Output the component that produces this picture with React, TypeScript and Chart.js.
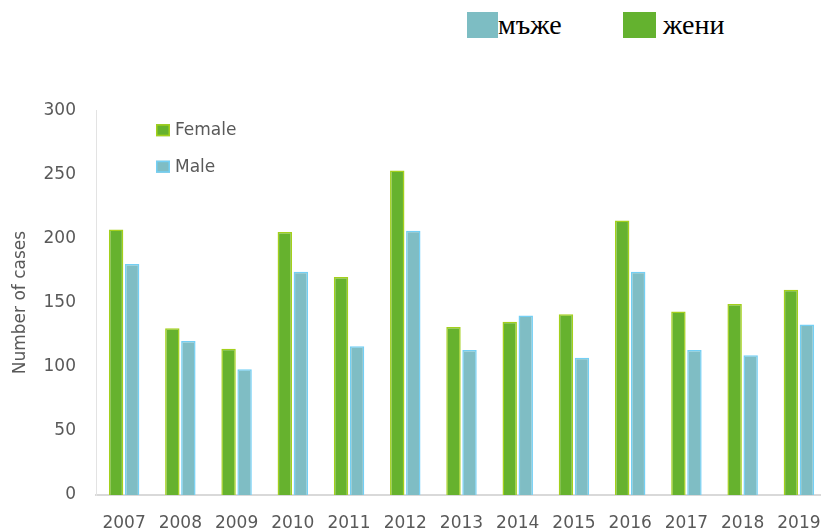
import React, { useEffect, useRef } from "react";
import { Chart, registerables } from "chart.js";

Chart.register(...registerables);

const years = ["2007", "2008", "2009", "2010", "2011", "2012", "2013", "2014", "2015", "2016", "2017", "2018", "2019"];
const female = [207, 130, 114, 205, 170, 253, 131, 135, 141, 214, 143, 149, 160];
const male = [180, 120, 98, 174, 116, 206, 113, 140, 107, 174, 113, 109, 133];
const yMin = 0;
const yMax = 300;
const yStep = 50;
const topLegend = [
  { label: "мъже", color: "#7dbdc3" },
  { label: "жени", color: "#64b22f" },
];

const FONT = '"DejaVu Sans", sans-serif';
const GREY = "#595959";

const innerLegend = {
  id: "innerLegend",
  afterDraw(chart: any) {
    const { ctx, chartArea } = chart;
    ctx.save();
    chart.data.datasets.forEach((ds: any, i: number) => {
      const x = chartArea.left + 60;
      const y = chartArea.top + 14 + i * 36.5;
      ctx.fillStyle = ds.backgroundColor;
      ctx.fillRect(x, y, 14, 12);
      ctx.strokeStyle = ds.borderColor;
      ctx.lineWidth = 1.5;
      ctx.strokeRect(x + 0.75, y + 0.75, 12.5, 10.5);
      ctx.fillStyle = GREY;
      ctx.font = `17px ${FONT}`;
      ctx.textBaseline = "middle";
      ctx.textAlign = "left";
      ctx.fillText(ds.label, x + 19, y + 6.5);
    });
    ctx.restore();
  },
};

export default function App() {
  const ref = useRef<HTMLCanvasElement>(null);

  useEffect(() => {
    if (!ref.current) return;
    const chart = new Chart(ref.current, {
      type: "bar",
      data: {
        labels: years,
        datasets: [
          {
            label: "Female",
            data: female,
            backgroundColor: "#66b22e",
            borderColor: "#a3d01c",
            borderWidth: 1.5,
          },
          {
            label: "Male",
            data: male,
            backgroundColor: "#7fbdc4",
            borderColor: "#74cff4",
            borderWidth: 1.5,
          },
        ],
      },
      options: {
        responsive: false,
        animation: false,
        layout: { padding: { top: 29, right: 8, left: 0, bottom: 0 } },
        plugins: {
          legend: { display: false },
          tooltip: { enabled: false },
        },
        datasets: {
          bar: { categoryPercentage: 0.57, barPercentage: 0.9 },
        },
        scales: {
          x: {
            grid: { display: false },
            border: { color: "#d9d9d9", width: 2 },
            ticks: { color: GREY, font: { family: FONT, size: 17 }, padding: 10, maxRotation: 0, autoSkip: false },
            afterFit: (s: any) => {
              s.height = 34;
            },
          },
          y: {
            min: yMin,
            max: yMax,
            grid: { display: false, drawTicks: false },
            border: { color: "#e3e3e3", width: 1, dash: [2, 2] },
            ticks: { stepSize: yStep, color: GREY, font: { family: FONT, size: 17 }, padding: 20 },
            title: {
              display: true,
              text: "Number of cases",
              color: GREY,
              font: { family: FONT, size: 17 },
              padding: { top: 10, bottom: 0 },
            },
            afterFit: (s: any) => {
              s.width = 96;
            },
          },
        },
      },
      plugins: [innerLegend],
    });
    return () => chart.destroy();
  }, []);

  return (
    <div style={{ position: "fixed", left: 0, top: 0, width: 821, height: 529, overflow: "hidden", background: "#fff" }}>
      {topLegend.map((item, i) => (
        <div
          key={item.label}
          style={{
            position: "absolute",
            left: i === 0 ? 467 : 623,
            top: 12,
            display: "flex",
            alignItems: "center",
            height: 26,
          }}
        >
          <div style={{ width: i === 0 ? 31 : 33, height: 26, background: item.color }} />
          <span
            style={{
              fontFamily: '"Liberation Serif", serif',
              fontSize: 28,
              lineHeight: "26px",
              color: "#000",
              marginLeft: i === 0 ? 0 : 7,
              position: "relative",
              top: 0,
            }}
          >
            {item.label}
          </span>
        </div>
      ))}
      <canvas ref={ref} width={835} height={449} style={{ position: "absolute", left: 0, top: 80 }} />
    </div>
  );
}
